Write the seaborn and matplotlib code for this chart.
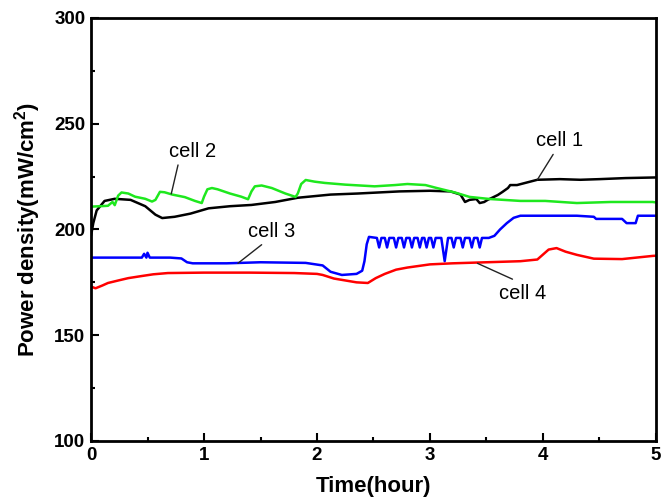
import matplotlib
matplotlib.use("Agg")
import matplotlib.pyplot as plt
import seaborn as sns
import pandas as pd
from matplotlib.ticker import MultipleLocator

# Power density traces of four cells over five hours of operation
cell1_t = [0.00, 0.02, 0.05, 0.12, 0.21, 0.35, 0.48, 0.57, 0.63, 0.74, 0.88, 1.04,
           1.23, 1.42, 1.63, 1.83, 2.12, 2.36, 2.73, 3.00, 3.18, 3.27, 3.31, 3.35,
           3.41, 3.44, 3.48, 3.51, 3.55, 3.60, 3.64, 3.69, 3.71, 3.77, 3.95, 4.15,
           4.33, 4.50, 4.73, 5.00]
cell1_v = [197.0, 203.0, 209.0, 213.5, 214.5, 214.0, 211.0, 207.0, 205.4, 206.0, 207.5, 210.0,
           211.0, 211.6, 213.0, 215.0, 216.5, 217.0, 218.0, 218.3, 218.0, 216.5, 213.0, 214.0,
           214.4, 212.5, 213.0, 214.0, 215.0, 216.3, 217.7, 219.6, 221.0, 221.0, 223.5, 223.8,
           223.5, 223.8, 224.3, 224.6]

cell2_t = [0.00, 0.08, 0.15, 0.19, 0.21, 0.24, 0.27, 0.33, 0.39, 0.48, 0.54, 0.57,
           0.61, 0.65, 0.72, 0.83, 0.92, 0.98, 1.00, 1.03, 1.07, 1.12, 1.23, 1.33,
           1.39, 1.42, 1.45, 1.51, 1.60, 1.72, 1.81, 1.83, 1.86, 1.90, 1.98, 2.07,
           2.25, 2.51, 2.69, 2.80, 2.96, 3.06, 3.22, 3.35, 3.53, 3.80, 4.02, 4.30,
           4.60, 4.97, 5.00]
cell2_v = [210.8, 211.0, 211.2, 213.0, 211.5, 216.0, 217.5, 217.0, 215.5, 214.5, 213.2, 214.0,
           217.8, 217.6, 216.5, 215.3, 213.5, 212.5, 215.5, 219.0, 219.6, 219.0, 217.0, 215.5,
           214.3, 218.0, 220.4, 220.8, 219.6, 217.0, 215.4, 217.0, 221.5, 223.4, 222.6, 222.0,
           221.2, 220.4, 221.0, 221.5, 221.0, 219.6, 217.5, 215.4, 214.4, 213.5, 213.5, 212.5,
           213.0, 213.0, 212.8]

cell3_t = [0.00, 0.45, 0.47, 0.49, 0.50, 0.52, 0.70, 0.80, 0.85, 0.90, 1.20, 1.50,
           1.90, 2.05, 2.12, 2.22, 2.35, 2.40, 2.42, 2.44, 2.46,
           2.53, 2.55, 2.57, 2.60, 2.62, 2.64, 2.68, 2.70, 2.72, 2.75, 2.77, 2.79,
           2.82, 2.84, 2.86, 2.89, 2.91, 2.93, 2.95, 2.97, 2.99, 3.01, 3.03, 3.05,
           3.10, 3.13, 3.16, 3.19, 3.21, 3.23, 3.27, 3.29, 3.31, 3.35, 3.37, 3.39,
           3.42, 3.44, 3.46, 3.52, 3.57, 3.62, 3.68, 3.74, 3.80, 4.00, 4.30, 4.45,
           4.47, 4.70, 4.74, 4.82, 4.84, 5.00]
cell3_v = [186.7, 186.7, 188.5, 186.7, 189.0, 186.7, 186.7, 186.3, 184.5, 184.0, 184.0, 184.5,
           184.2, 183.0, 180.0, 178.5, 179.0, 180.5, 185.0, 193.0, 196.5,
           196.0, 191.5, 196.0, 196.0, 191.5, 196.0, 196.0, 191.5, 196.0, 196.0, 191.5, 196.0,
           196.0, 191.5, 196.0, 196.0, 191.5, 196.0, 196.0, 191.5, 196.0, 196.0, 191.5, 196.0,
           196.0, 185.0, 196.0, 196.0, 191.5, 196.0, 196.0, 191.5, 196.0, 196.0, 191.5, 196.0,
           196.0, 191.5, 196.0, 196.0, 197.0, 200.0, 203.0, 205.5, 206.5, 206.5, 206.5, 206.0,
           205.0, 205.0, 203.0, 203.0, 206.5, 206.5]

cell4_t = [0.00, 0.04, 0.10, 0.15, 0.25, 0.33, 0.45, 0.55, 0.68, 1.00, 1.40, 1.80,
           2.00, 2.05, 2.15, 2.35, 2.45, 2.52, 2.60, 2.70, 2.80, 3.00, 3.20, 3.50,
           3.80, 3.95, 4.05, 4.12, 4.20, 4.30, 4.45, 4.70, 4.97, 5.00]
cell4_v = [173.0, 172.2, 173.5, 174.7, 176.0, 177.0, 178.0, 178.8, 179.4, 179.6, 179.6, 179.4,
           179.0, 178.5, 176.8, 175.0, 174.7, 177.0, 179.0, 181.0, 182.0, 183.5, 184.0, 184.5,
           185.0, 185.8, 190.5, 191.2, 189.5, 188.0, 186.2, 186.0, 187.5, 187.6]

cell_names = ["cell 1", "cell 2", "cell 3", "cell 4"]
cell_colors = ["#000000", "#1ee81e", "#0000ff", "#ff0000"]

frames = []
for name, t, v in zip(cell_names,
                      [cell1_t, cell2_t, cell3_t, cell4_t],
                      [cell1_v, cell2_v, cell3_v, cell4_v]):
    frames.append(pd.DataFrame({"time": t, "power": v, "cell": name}))
df = pd.concat(frames, ignore_index=True)

sns.set_style("ticks")
plt.rcParams["font.family"] = ["Liberation Sans", "DejaVu Sans"]
plt.rcParams["mathtext.fontset"] = "custom"
plt.rcParams["mathtext.rm"] = "Liberation Sans"
plt.rcParams["mathtext.bf"] = "Liberation Sans:bold"
for key in ["text.color", "axes.labelcolor", "xtick.color", "ytick.color", "axes.edgecolor"]:
    plt.rcParams[key] = "black"

fig = plt.figure(figsize=(6.61, 4.98), dpi=100)
ax = fig.add_axes([0.1377, 0.1145, 0.8547, 0.8494])

sns.lineplot(data=df, x="time", y="power", hue="cell", hue_order=cell_names,
             palette=dict(zip(cell_names, cell_colors)), estimator=None, sort=False,
             legend=False, linewidth=1.8, ax=ax)

ax.set_xlim(0, 5)
ax.set_ylim(100, 300)
ax.xaxis.set_major_locator(MultipleLocator(1))
ax.xaxis.set_minor_locator(MultipleLocator(0.5))
ax.yaxis.set_major_locator(MultipleLocator(50))
ax.yaxis.set_minor_locator(MultipleLocator(25))
ax.tick_params(which="both", direction="in", width=1.5, top=False, right=False)
ax.tick_params(which="major", length=6, labelsize=13.5, pad=4)
ax.tick_params(which="minor", length=3)
for lab in ax.get_xticklabels() + ax.get_yticklabels():
    lab.set_fontweight("bold")
for sp in ax.spines.values():
    sp.set_linewidth(2)
    sp.set_visible(True)

ax.set_xlabel("Time(hour)", fontsize=16, fontweight="bold", labelpad=9)
ax.set_ylabel(r"Power density(mW/cm$^{\mathbf{2}}$)", fontsize=16,
              fontweight="bold", labelpad=8)

# Curve labels with leader lines
label_specs = [
    ("cell 1", (3.95, 223.5), (4.15, 242.0), (4.09, 235.5)),
    ("cell 2", (0.71, 216.8), (0.90, 237.0), (0.77, 230.5)),
    ("cell 3", (1.30, 184.0), (1.60, 199.0), (1.51, 192.8)),
    ("cell 4", (3.42, 184.0), (3.82, 169.5), (3.73, 176.5)),
]
for text, tip, pos, start in label_specs:
    ax.text(pos[0], pos[1], text, fontsize=14.5, ha="center", va="center")
    ax.annotate("", xy=tip, xytext=start,
                arrowprops=dict(arrowstyle="-", color="#222222", lw=1.0,
                                shrinkA=0, shrinkB=0))

fig.savefig("out.png", dpi=100)
